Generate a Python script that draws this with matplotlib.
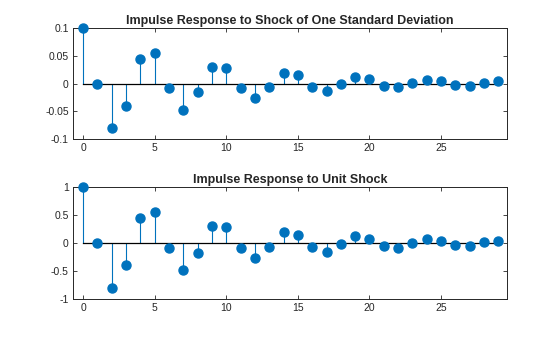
import matplotlib
matplotlib.use("Agg")
import matplotlib.pyplot as plt
from matplotlib.ticker import FuncFormatter

plt.rcParams['font.family'] = ['Liberation Sans', 'DejaVu Sans']

lags = list(range(30))
resp_std = [0.1, 0.0, -0.08, -0.04, 0.045, 0.055, -0.008, -0.047, -0.016, 0.03,
            0.028, -0.009, -0.027, -0.006, 0.019, 0.015, -0.007, -0.014, -0.001, 0.012,
            0.008, -0.005, -0.007, 0.001, 0.007, 0.004, -0.003, -0.004, 0.001, 0.004]
resp_unit = [1.0, 0.0, -0.80, -0.40, 0.45, 0.55, -0.085, -0.48, -0.17, 0.30,
             0.29, -0.085, -0.26, -0.07, 0.20, 0.14, -0.065, -0.16, -0.02, 0.125,
             0.075, -0.05, -0.085, 0.0, 0.075, 0.035, -0.035, -0.05, 0.02, 0.035]

titles = ["Impulse Response to Shock of One Standard Deviation",
          "Impulse Response to Unit Shock"]
yticks_top = [-0.1, -0.05, 0, 0.05, 0.1]
yticks_bot = [-1, -0.5, 0, 0.5, 1]
xticks = [0, 5, 10, 15, 20, 25]

color = '#0072BD'
W, H = 560, 337
fig = plt.figure(figsize=(W / 100, H / 100), dpi=100)

def make_axes(top, bottom):
    left, right = 73, 507
    return fig.add_axes([left / W, 1 - bottom / H, (right - left) / W, (bottom - top) / H])

ax1 = make_axes(28, 139)
ax2 = make_axes(187, 299)

fmt = FuncFormatter(lambda v, p: f"{v:g}")

for ax, vals, ttl, yt in [(ax1, resp_std, titles[0], yticks_top),
                          (ax2, resp_unit, titles[1], yticks_bot)]:
    ml, sl, bl = ax.stem(lags, vals, basefmt='k-')
    plt.setp(sl, color=color, linewidth=0.8)
    plt.setp(ml, color=color, markerfacecolor=color, markeredgecolor=color,
             markersize=6.5, clip_on=False, zorder=3)
    plt.setp(bl, color='black', linewidth=0.9)
    ax.set_xlim(-0.7, 29.6)
    ax.set_ylim(yt[0], yt[-1])
    ax.set_yticks(yt)
    ax.set_xticks(xticks)
    ax.yaxis.set_major_formatter(fmt)
    ax.tick_params(direction='in', length=3, width=0.6, labelsize=7.5, top=True, right=True,
                   colors='#262626', pad=3)
    for s in ax.spines.values():
        s.set_linewidth(0.7)
        s.set_color('#262626')
    ax.set_title(ttl, fontsize=9, fontweight='bold', color='#262626', pad=3)

fig.savefig('out.png', dpi=100, facecolor='white')
